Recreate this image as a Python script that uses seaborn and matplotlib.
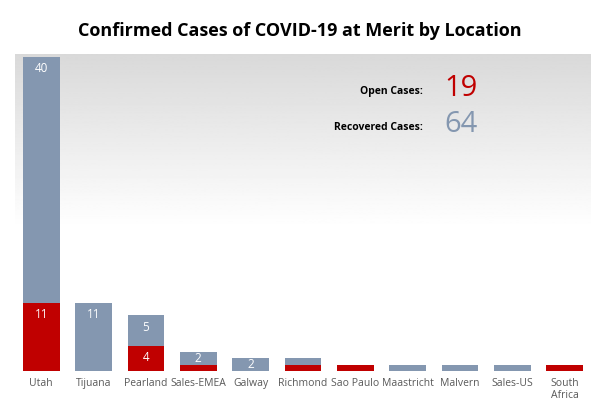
import matplotlib
matplotlib.use("Agg")
import matplotlib.pyplot as plt
import seaborn as sns
import numpy as np
import pandas as pd

locations = ["Utah","Tijuana","Pearland","Sales-EMEA","Galway","Richmond","Sao Paulo","Maastricht","Malvern","Sales-US","South\nAfrica"]
open_cases = [11,0,4,1,0,1,1,0,0,0,1]
recovered = [40,11,5,2,2,1,0,1,1,1,0]
total_open = 19
total_recovered = 64

RED = "#C00000"
BLUE = "#8497B0"
plt.rcParams["font.family"] = "Open Sans"

fig = plt.figure(figsize=(6, 4.12), dpi=100)
ax = fig.add_axes([0.025, 0.1, 0.96, 0.77])
v = np.linspace(0, 1, 256)
grad = np.clip(0.85 + 0.15 * (v / 0.55), 0, 1).reshape(-1, 1)
ax.imshow(grad, cmap="gray", vmin=0, vmax=1, aspect="auto",
          extent=[-0.5, 10.5, 0, 51.5], zorder=0, origin="upper")

df = pd.DataFrame({"loc": locations, "open": open_cases, "rec": recovered})
df["total"] = df["open"] + df["rec"]
sns.barplot(data=df, x="loc", y="total", color=BLUE, width=0.7, ax=ax, zorder=2, saturation=1)
sns.barplot(data=df, x="loc", y="open", color=RED, width=0.7, ax=ax, zorder=3, saturation=1)

def ypos(base, h):
    return base + h - 1.9 if h >= 4 else base + h / 2
for i, (o, r) in enumerate(zip(open_cases, recovered)):
    if o >= 2:
        ax.text(i, ypos(0, o), str(o), ha="center", va="center", color="white", fontsize=8.5, zorder=4)
    if r >= 2:
        ax.text(i, ypos(o, r), str(r), ha="center", va="center", color="white", fontsize=8.5, zorder=4)

ax.set_xlim(-0.5, 10.5)
ax.set_ylim(0, 51.5)
for s in ax.spines.values():
    s.set_visible(False)
ax.set_yticks([])
ax.set_xlabel("")
ax.set_ylabel("")
ax.tick_params(axis="x", length=0, labelsize=7.5, labelcolor="#595959", pad=5)

fig.text(0.5, 0.925, "Confirmed Cases of COVID-19 at Merit by Location", ha="center", va="center",
         fontsize=13, fontweight="bold")
fig.text(0.705, 0.778, "Open Cases:", ha="right", va="center", fontsize=7.5, fontweight="bold")
fig.text(0.74, 0.785, str(total_open), ha="left", va="center", fontsize=21, color=RED)
fig.text(0.705, 0.69, "Recovered Cases:", ha="right", va="center", fontsize=7.5, fontweight="bold")
fig.text(0.74, 0.697, str(total_recovered), ha="left", va="center", fontsize=21, color=BLUE)

fig.savefig("out.png", dpi=100)
